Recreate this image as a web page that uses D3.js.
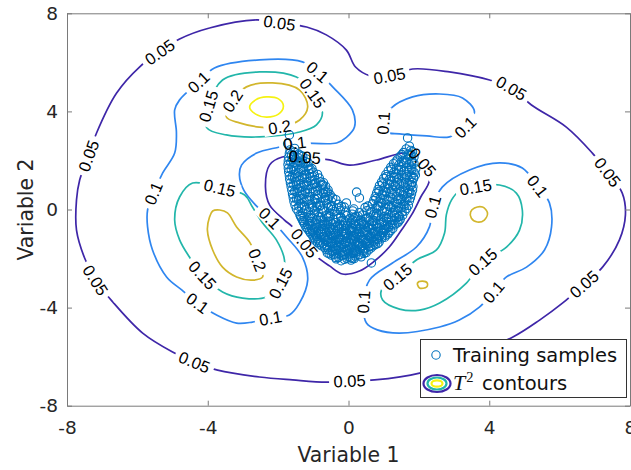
<!DOCTYPE html>
<html>
<head>
<meta charset="utf-8">
<script src="https://cdn.jsdelivr.net/npm/d3@7"></script>
<style>
  body { margin: 0; background: #fff; }
  svg { display: block; }
</style>
</head>
<body>
<svg id="chart" width="631" height="470"></svg>
<script>
// ---- chart values -------------------------------------------------------
const xTicks = [-8, -4, 0, 4, 8];
const yTicks = [-8, -4, 0, 4, 8];
const contourLevels = [0.05, 0.1, 0.15, 0.2, 0.25];
const levelColors = ["#3e26a8", "#2f86f0", "#22b6aa", "#d2b62c", "#f5f213"];

// T^2 contour lines, closed, [Variable 1, Variable 2]
const contourPaths = [
  { level: 0.05, points: [[-4.80,6.95],[-3.95,7.40],[-2.61,7.73],[-1.96,7.61],[-1.19,7.44],[-0.63,7.12],[-0.06,6.50],[0.20,5.81],[0.62,5.45],[1.16,5.45],[1.82,5.73],[2.87,5.61],[4.01,5.28],[4.63,4.95],[5.20,4.26],[6.19,3.36],[6.93,2.30],[7.36,1.53],[7.78,0.67],[7.87,-0.22],[7.70,-1.24],[7.22,-2.35],[6.70,-3.04],[6.08,-3.82],[5.43,-4.51],[4.66,-5.21],[3.44,-5.93],[2.59,-6.38],[2.02,-6.67],[0.74,-6.95],[0.03,-6.99],[-0.63,-7.04],[-1.59,-6.95],[-2.53,-6.83],[-3.72,-6.55],[-4.38,-6.22],[-5.00,-5.81],[-5.85,-5.04],[-6.70,-3.77],[-7.19,-2.88],[-7.50,-1.98],[-7.73,-0.84],[-7.73,0.39],[-7.64,1.20],[-7.39,2.18],[-7.16,3.12],[-6.59,4.75],[-5.94,5.81],[-5.37,6.42]] },
  { level: 0.05, points: [[-1.88,2.14],[-2.24,1.82],[-2.36,0.92],[-2.24,0.18],[-1.82,-0.43],[-1.59,-0.71],[-1.25,-1.37],[-0.88,-1.94],[-0.54,-2.30],[-0.17,-2.63],[0.31,-2.51],[0.74,-2.10],[1.16,-1.53],[1.50,-0.85],[1.80,-0.20],[2.05,0.50],[2.30,1.20],[2.10,1.94],[1.65,2.30],[0.80,2.02],[0.03,1.81],[-0.54,2.02],[-1.25,2.14]] },
  { level: 0.1, points: [[-4.26,5.20],[-3.81,5.77],[-2.53,6.10],[-1.31,6.02],[-0.88,5.61],[-0.45,5.00],[0.11,4.06],[0.17,3.36],[-0.06,2.94],[-0.34,2.71],[-1.53,2.71],[-1.96,2.55],[-2.61,2.30],[-3.04,1.81],[-3.10,1.41],[-2.98,0.80],[-2.64,0.18],[-2.24,-0.35],[-1.76,-1.12],[-1.31,-1.94],[-1.16,-2.88],[-1.39,-3.81],[-1.68,-4.30],[-2.22,-4.43],[-2.73,-4.59],[-3.18,-4.63],[-3.75,-4.30],[-4.29,-3.81],[-4.74,-3.28],[-5.17,-2.75],[-5.57,-1.65],[-5.71,-0.71],[-5.71,-0.02],[-5.54,0.67],[-5.28,1.49],[-4.94,2.30],[-4.89,3.12],[-4.94,4.06],[-4.80,4.47]] },
  { level: 0.15, points: [[-3.98,4.22],[-3.58,5.28],[-2.53,5.61],[-1.48,5.40],[-1.02,4.75],[-0.74,3.94],[-0.91,3.45],[-1.39,3.16],[-2.53,2.96],[-3.47,3.04],[-4.03,3.34]] },
  { level: 0.2, points: [[-3.30,4.42],[-2.90,5.00],[-2.16,5.16],[-1.39,4.87],[-1.16,4.18],[-1.39,3.65],[-1.96,3.36],[-2.53,3.36],[-3.10,3.53],[-3.47,3.77]] },
  { level: 0.25, points: [[-2.81,4.18],[-2.64,4.47],[-2.33,4.59],[-1.99,4.51],[-1.85,4.22],[-1.99,3.89],[-2.33,3.77],[-2.64,3.89]] },
  { level: 0.15, points: [[-4.43,1.08],[-4.80,0.51],[-4.94,-0.43],[-4.80,-1.24],[-4.52,-1.94],[-4.15,-2.67],[-3.58,-3.36],[-3.01,-3.61],[-2.33,-3.57],[-1.93,-3.00],[-1.82,-2.06],[-2.05,-1.24],[-2.44,-0.55],[-2.73,0.10],[-2.95,0.59],[-3.66,0.88]] },
  { level: 0.2, points: [[-3.95,-0.31],[-3.86,-0.06],[-3.66,-0.02],[-3.44,-0.14],[-3.18,-0.71],[-2.81,-1.33],[-2.59,-2.06],[-2.44,-2.75],[-2.73,-2.88],[-3.18,-2.75],[-3.58,-2.35],[-3.86,-1.65],[-4.01,-0.84]] },
  { level: 0.1, points: [[1.22,4.14],[1.82,4.59],[2.59,4.71],[3.24,4.55],[3.58,3.98],[3.32,3.36],[2.87,2.96],[2.22,3.00],[1.45,3.08],[1.08,3.16],[0.99,3.53]] },
  { level: 0.1, points: [[2.67,0.92],[3.44,1.61],[4.29,1.90],[4.94,1.69],[5.37,0.96],[5.71,0.27],[5.77,-0.71],[5.57,-1.65],[5.06,-2.35],[4.49,-2.75],[4.12,-3.36],[3.72,-3.98],[3.15,-4.51],[2.59,-4.79],[1.45,-5.04],[0.82,-4.91],[0.51,-4.63],[0.43,-3.77],[0.60,-2.87],[1.25,-2.18],[1.93,-1.53],[2.30,-0.71],[2.39,0.10]] },
  { level: 0.15, points: [[3.61,0.92],[4.29,1.00],[4.77,0.67],[4.94,-0.02],[4.86,-0.84],[4.49,-1.53],[3.81,-2.14],[3.35,-3.00],[2.59,-3.81],[2.02,-4.10],[1.45,-4.06],[0.97,-3.69],[0.94,-3.28],[1.39,-2.75],[1.93,-2.06],[2.50,-1.65],[2.73,-0.96],[2.78,-0.22],[2.93,0.39],[3.15,0.75]] },
  { level: 0.2, points: [[3.58,0.06],[3.81,0.10],[3.95,-0.14],[3.86,-0.43],[3.66,-0.51],[3.49,-0.35],[3.47,-0.10]] },
  { level: 0.2, points: [[1.96,-3.00],[2.10,-2.92],[2.24,-3.00],[2.22,-3.16],[2.02,-3.20]] }
];

// inline level labels: [contour index, Variable 1, Variable 2]
const contourLabels = [
  [0,-1.96,7.61],[0,1.16,5.45],[0,4.63,4.95],[0,7.36,1.53],[0,6.70,-3.04],[0,0.03,-6.99],[0,-4.38,-6.22],[0,-7.19,-2.88],[0,-7.39,2.18],[0,-5.37,6.42],
  [1,-1.25,2.14],[1,2.10,1.94],[1,-1.25,-1.37],
  [2,-4.26,5.20],[2,-0.88,5.61],[2,-1.53,2.71],[2,-2.24,-0.35],[2,-2.22,-4.43],[2,-4.29,-3.81],[2,-5.54,0.67],
  [3,-3.98,4.22],[3,-1.02,4.75],
  [4,-3.30,4.42],[4,-1.96,3.36],
  [6,-3.66,0.88],[6,-4.15,-2.67],[6,-1.93,-3.00],
  [7,-2.59,-2.06],
  [8,3.32,3.36],[8,0.99,3.53],
  [9,5.37,0.96],[9,4.12,-3.36],[9,0.43,-3.77],[9,2.39,0.10],
  [10,3.61,0.92],[10,3.81,-2.14],[10,1.39,-2.75]
];

// training samples [Variable 1, Variable 2]
const samples = [
  [-0.35,-2.01],[-0.21,-2.09],[-0.05,-1.99],[0.07,-2.06],[0.16,-2.00],
  [-0.49,-1.86],[-0.37,-1.95],[-0.20,-1.88],[-0.11,-1.83],[0.06,-1.97],[0.19,-1.90],[0.28,-1.84],[0.36,-1.93],
  [-0.60,-1.77],[-0.45,-1.69],[-0.36,-1.80],[-0.17,-1.73],[-0.03,-1.67],[0.13,-1.79],[0.23,-1.72],[0.41,-1.68],[0.50,-1.76],
  [-0.68,-1.55],[-0.56,-1.64],[-0.37,-1.58],[-0.28,-1.52],[-0.06,-1.61],[0.08,-1.56],[0.17,-1.66],[0.37,-1.53],[0.47,-1.60],[0.64,-1.57],
  [-0.82,-1.41],[-0.63,-1.47],[-0.51,-1.38],[-0.41,-1.50],[-0.19,-1.44],[-0.07,-1.37],[0.10,-1.49],[0.21,-1.42],[0.40,-1.46],[0.53,-1.39],[0.62,-1.50],[0.76,-1.43],
  [-0.93,-1.28],[-0.80,-1.34],[-0.61,-1.25],[-0.50,-1.31],[-0.33,-1.36],[-0.19,-1.23],[-0.08,-1.30],[0.13,-1.27],[0.26,-1.35],[0.39,-1.24],[0.51,-1.32],[0.70,-1.29],[0.79,-1.22],[0.87,-1.33],
  [-1.00,-1.13],[-0.89,-1.19],[-0.70,-1.10],[-0.57,-1.16],[-0.45,-1.08],[-0.24,-1.18],[-0.12,-1.12],[0.05,-1.20],[0.15,-1.09],[0.36,-1.14],[0.48,-1.19],[0.60,-1.11],[0.81,-1.17],[0.90,-1.07],[1.03,-1.13],
  [-1.08,-0.96],[-0.94,-1.04],[-0.84,-0.99],[-0.63,-0.93],[-0.49,-1.06],[-0.37,-0.98],[-0.16,-1.02],[-0.05,-0.95],[0.12,-1.05],[0.23,-0.97],[0.44,-0.92],[0.56,-1.03],[0.67,-0.98],[0.88,-1.06],[0.99,-0.94],[1.12,-1.00],
  [-1.15,-0.81],[-1.02,-0.88],[-0.85,-0.84],[-0.76,-0.78],[-0.55,-0.90],[-0.42,-0.83],[-0.26,-0.79],[-0.14,-0.87],[0.04,-0.82],[0.17,-0.91],[0.30,-0.77],[0.49,-0.85],[0.62,-0.80],[0.74,-0.89],[0.95,-0.83],[1.07,-0.78],[1.20,-0.86],
  [-1.21,-0.72],[-1.07,-0.66],[-0.97,-0.75],[-0.79,-0.69],[-0.64,-0.63],[-0.53,-0.74],[-0.32,-0.67],[-0.20,-0.71],[-0.03,-0.64],[0.11,-0.76],[0.21,-0.68],[0.42,-0.62],[0.55,-0.73],[0.71,-0.67],[0.83,-0.75],[1.02,-0.65],[1.14,-0.70],[1.30,-0.63],
  [-1.28,-0.52],[-1.12,-0.59],[-1.03,-0.50],[-0.84,-0.56],[-0.69,-0.61],[-0.58,-0.49],[-0.37,-0.54],[-0.25,-0.60],[-0.09,-0.51],[0.06,-0.57],[0.20,-0.48],[0.37,-0.55],[0.46,-0.62],[0.67,-0.50],[0.79,-0.58],[0.95,-0.53],[1.10,-0.49],[1.24,-0.60],[1.40,-0.54],
  [-1.33,-0.37],[-1.18,-0.44],[-1.04,-0.35],[-0.91,-0.41],[-0.73,-0.46],[-0.61,-0.34],[-0.43,-0.40],[-0.30,-0.36],[-0.14,-0.45],[0.03,-0.38],[0.15,-0.33],[0.34,-0.43],[0.47,-0.39],[0.60,-0.47],[0.80,-0.35],[0.91,-0.42],[1.08,-0.37],[1.22,-0.44],[1.36,-0.34],[1.47,-0.40],
  [-1.38,-0.22],[-1.26,-0.29],[-1.09,-0.24],[-0.97,-0.18],[-0.79,-0.31],[-0.63,-0.23],[-0.52,-0.27],[-0.34,-0.20],[-0.22,-0.30],[-0.05,-0.25],[0.10,-0.19],[0.27,-0.28],[0.40,-0.22],[0.56,-0.32],[0.71,-0.21],[0.84,-0.26],[1.00,-0.30],[1.13,-0.20],[1.31,-0.25],[1.42,-0.29],[1.54,-0.23],
  [-1.43,-0.07],[-1.30,-0.14],[-1.14,-0.09],[-0.98,-0.03],[-0.86,-0.12],[-0.70,-0.06],[-0.53,-0.15],[-0.41,-0.08],[-0.23,-0.04],[-0.08,-0.11],[0.12,-0.06],[0.31,-0.13],[0.52,-0.05],[0.64,-0.10],[0.80,-0.15],[0.96,-0.04],[1.08,-0.09],[1.25,-0.12],[1.40,-0.05],[1.52,-0.10],[1.60,-0.07],
  [-1.48,0.03],[-1.33,0.09],[-1.20,0.01],[-1.02,0.07],[-0.90,0.10],[-0.74,0.02],[-0.57,0.08],[-0.45,-0.01],[-0.28,0.06],[-0.12,0.10],[0.15,0.02],
  [0.47,0.08],[0.61,0.01],[0.79,0.06],[0.90,0.11],[1.07,0.03],[1.22,0.09],[1.34,0.00],[1.50,0.07],[1.65,0.04],
  [-1.52,0.18],[-1.36,0.24],[-1.25,0.15],[-1.07,0.22],[-0.92,0.26],[-0.80,0.17],[-0.62,0.23],[-0.48,0.16],[-0.29,0.21],[-0.06,0.27],
  [0.68,0.23],[0.83,0.16],[0.95,0.25],[1.13,0.19],[1.27,0.14],[1.40,0.24],[1.57,0.20],[1.70,0.17],
  [-1.55,0.33],[-1.42,0.39],[-1.24,0.31],[-1.12,0.36],[-0.95,0.41],[-0.79,0.30],[-0.66,0.38],[-0.49,0.34],[-0.36,0.40],
  [0.72,0.37],[0.86,0.31],[1.03,0.40],[1.15,0.34],[1.32,0.29],[1.47,0.39],[1.60,0.33],[1.73,0.36],
  [-1.57,0.48],[-1.41,0.54],[-1.29,0.46],[-1.13,0.52],[-0.97,0.45],[-0.85,0.55],[-0.67,0.49],[-0.55,0.53],[-0.45,0.47],[0.31,0.47],
  [0.76,0.52],[0.91,0.46],[1.04,0.55],[1.20,0.49],[1.36,0.53],[1.49,0.45],[1.65,0.51],[1.76,0.48],
  [-1.59,0.63],[-1.46,0.69],[-1.30,0.61],[-1.17,0.67],[-1.00,0.71],[-0.88,0.62],[-0.71,0.66],[-0.59,0.70],[-0.52,0.60],[0.23,0.71],
  [0.80,0.67],[0.95,0.61],[1.08,0.70],[1.25,0.64],[1.38,0.68],[1.55,0.60],[1.68,0.66],[1.79,0.63],
  [-1.61,0.78],[-1.45,0.84],[-1.33,0.76],[-1.16,0.82],[-1.04,0.86],[-0.87,0.77],[-0.72,0.83],[-0.58,0.79],
  [0.84,0.82],[0.99,0.76],[1.14,0.85],[1.27,0.79],[1.44,0.83],[1.56,0.75],[1.72,0.81],[1.82,0.78],
  [-1.63,0.93],[-1.48,0.99],[-1.32,0.91],[-1.20,0.97],[-1.03,1.01],[-0.90,0.92],[-0.77,0.98],[-0.65,0.94],
  [0.88,0.97],[1.03,0.91],[1.16,1.00],[1.33,0.94],[1.46,0.99],[1.61,0.90],[1.75,0.96],[1.83,0.93],
  [-1.65,1.08],[-1.50,1.14],[-1.37,1.06],[-1.20,1.12],[-1.08,1.16],[-0.93,1.07],[-0.80,1.13],[-0.71,1.09],
  [0.94,1.12],[1.10,1.06],[1.22,1.15],[1.39,1.09],[1.52,1.13],[1.68,1.05],[1.81,1.11],
  [-1.67,1.23],[-1.53,1.29],[-1.38,1.21],[-1.25,1.27],[-1.09,1.31],[-0.96,1.22],[-0.83,1.28],
  [1.00,1.27],[1.15,1.21],[1.30,1.30],[1.42,1.24],[1.59,1.28],[1.72,1.20],[1.85,1.26],
  [-1.68,1.38],[-1.52,1.44],[-1.41,1.36],[-1.24,1.42],[-1.11,1.46],[-0.97,1.37],[-0.88,1.43],
  [1.06,1.42],[1.21,1.36],[1.35,1.45],[1.50,1.39],[1.64,1.43],[1.78,1.35],[1.90,1.41],
  [-1.70,1.53],[-1.55,1.59],[-1.42,1.51],[-1.27,1.57],[-1.13,1.61],[-1.00,1.52],
  [1.13,1.57],[1.29,1.51],[1.42,1.60],[1.58,1.54],[1.72,1.58],[1.87,1.50],
  [-1.71,1.68],[-1.57,1.74],[-1.41,1.66],[-1.29,1.72],[-1.15,1.76],[-1.04,1.67],
  [1.20,1.72],[1.36,1.66],[1.49,1.75],[1.64,1.69],[1.79,1.73],[1.91,1.65],
  [-1.72,1.83],[-1.56,1.89],[-1.44,1.81],[-1.29,1.87],[-1.15,1.91],
  [1.28,1.87],[1.43,1.81],[1.57,1.90],[1.72,1.84],[1.86,1.88],
  [-1.71,1.98],[-1.58,2.04],[-1.43,1.96],[-1.31,2.02],[-1.20,2.06],
  [1.38,2.02],[1.52,1.96],[1.67,2.05],[1.80,1.99],
  [-1.70,2.13],[-1.55,2.19],[-1.43,2.11],[-1.30,2.17],
  [1.47,2.17],[1.62,2.11],[1.75,2.20],[1.86,2.14],
  [-1.68,2.28],[-1.54,2.34],[-1.42,2.26],[1.56,2.32],[1.70,2.26],[1.82,2.35],
  [-1.66,2.43],[-1.53,2.49],[1.64,2.47],[1.77,2.41],
  [-1.73,2.68],[-1.68,3.04],[1.73,2.58],[1.68,2.92],[0.65,-2.18],
  // second pass through the dense part of the band
  [-0.28,-1.95],[-0.12,-2.03],[0.02,-1.92],[0.11,-1.99],
  [-0.55,-1.80],[-0.42,-1.84],[-0.27,-1.78],[-0.15,-1.86],[0.01,-1.81],[0.12,-1.76],[0.31,-1.85],[0.44,-1.79],
  [-0.64,-1.63],[-0.50,-1.70],[-0.33,-1.66],[-0.21,-1.61],[-0.10,-1.72],[0.03,-1.64],[0.19,-1.69],[0.32,-1.62],[0.43,-1.71],[0.57,-1.65],
  [-0.76,-1.48],[-0.60,-1.55],[-0.46,-1.50],[-0.33,-1.46],[-0.15,-1.56],[-0.01,-1.49],[0.14,-1.53],[0.28,-1.47],[0.44,-1.57],[0.58,-1.51],[0.70,-1.48],
  [-0.88,-1.35],[-0.72,-1.40],[-0.58,-1.33],[-0.45,-1.39],[-0.26,-1.34],[-0.13,-1.41],[0.04,-1.36],[0.17,-1.32],[0.31,-1.40],[0.47,-1.35],[0.59,-1.38],[0.73,-1.33],[0.83,-1.39],
  [-0.96,-1.19],[-0.84,-1.25],[-0.67,-1.20],[-0.53,-1.16],[-0.38,-1.26],[-0.27,-1.21],[-0.04,-1.18],[0.09,-1.24],[0.21,-1.17],[0.43,-1.22],[0.55,-1.27],[0.66,-1.19],[0.84,-1.23],[0.95,-1.16],
  [-1.03,-1.04],[-0.90,-1.10],[-0.76,-1.02],[-0.60,-1.08],[-0.42,-1.05],[-0.29,-1.11],[-0.09,-1.03],[0.07,-1.07],[0.19,-1.12],[0.31,-1.01],[0.52,-1.06],[0.64,-1.10],[0.77,-1.03],[0.95,-1.09],[1.06,-1.05],
  [-1.11,-0.89],[-0.98,-0.95],[-0.79,-0.90],[-0.68,-0.87],[-0.51,-0.96],[-0.33,-0.88],[-0.20,-0.93],[-0.09,-0.97],[0.08,-0.86],[0.27,-0.92],[0.38,-0.95],[0.53,-0.88],[0.71,-0.94],[0.84,-0.90],[1.02,-0.87],[1.15,-0.93],
  [-1.18,-0.74],[-1.04,-0.80],[-0.90,-0.73],[-0.71,-0.79],[-0.60,-0.75],[-0.47,-0.81],[-0.29,-0.72],[-0.09,-0.78],[0.08,-0.74],[0.24,-0.80],[0.35,-0.76],[0.56,-0.71],[0.68,-0.79],[0.87,-0.75],[1.00,-0.81],[1.13,-0.73],[1.26,-0.77],
  [-1.25,-0.60],[-1.15,-0.64],[-0.92,-0.58],[-0.74,-0.63],[-0.45,-0.59],[-0.14,-0.65],[0.15,-0.60],[0.30,-0.57],[0.60,-0.63],[0.88,-0.59],[1.19,-0.61],[1.35,-0.58],
  [-1.30,-0.45],[-1.10,-0.49],[-0.78,-0.44],[-0.52,-0.50],[-0.20,-0.46],[0.11,-0.43],[0.41,-0.49],[0.72,-0.45],[1.00,-0.48],[1.30,-0.44],[1.43,-0.47],
  [-1.36,-0.29],[-1.12,-0.34],[-0.85,-0.30],[-0.56,-0.28],[-0.22,-0.33],[0.21,-0.30],[0.52,-0.35],[0.76,-0.29],[1.15,-0.32],[1.45,-0.28],
  [-1.41,0.13],[-1.10,0.10],[-0.82,0.14],[-0.50,0.11],[-0.20,0.12],[0.55,0.14],[0.85,0.12],[1.15,0.13],[1.42,0.10],[1.60,0.15],
  [-1.48,0.43],[-1.18,0.41],[-0.88,0.45],[-0.58,0.42],[0.78,0.44],[1.09,0.41],[1.40,0.43],[1.66,0.42],
  [-1.53,0.74],[-1.23,0.71],[-0.94,0.75],[-0.65,0.72],[0.87,0.74],[1.18,0.72],[1.47,0.73],[1.74,0.71],
  [-1.57,1.03],[-1.27,1.01],[-0.97,1.05],[-0.74,1.02],[0.97,1.04],[1.27,1.02],[1.56,1.03],[1.79,1.01],
  [-1.60,1.34],[-1.32,1.31],[-1.03,1.35],[1.08,1.34],[1.37,1.32],[1.66,1.33],[1.85,1.31],
  [-1.63,1.64],[-1.35,1.61],[-1.09,1.65],[1.22,1.64],[1.50,1.62],[1.80,1.63],
  [-1.64,1.94],[-1.37,1.91],[-1.22,1.95],[1.35,1.94],[1.64,1.92],[1.80,1.93],
  [-1.62,2.24],[-1.37,2.21],[1.52,2.24],[1.78,2.22]
];

const legendLabels = ["Training samples", "contours"];

// ---- layout ---------------------------------------------------------------
const svg = d3.select("#chart");
const x = d3.scaleLinear().domain([-8, 8]).range([67, 630]);
const y = d3.scaleLinear().domain([-8, 8]).range([405.7, 13.3]);
const color = d3.scaleOrdinal().domain(contourLevels).range(levelColors);

const axisGrey = "#7a7a7a";
const textDark = "#262626";
const sans = "DejaVu Sans, sans-serif";

// ---- contour lines (with gaps cut under their labels) --------------------
const line = d3.line().x(d => x(d[0])).y(d => y(d[1])).curve(d3.curveCatmullRomClosed.alpha(0.5));

const defs = svg.append("defs");
const mask = defs.append("mask").attr("id", "labelGaps")
  .attr("maskUnits", "userSpaceOnUse")
  .attr("x", 0).attr("y", 0).attr("width", 631).attr("height", 470);
mask.append("rect").attr("width", 631).attr("height", 470).attr("fill", "#fff");

const contourG = svg.append("g").attr("mask", "url(#labelGaps)");
const paths = contourG.selectAll("path.contour")
  .data(contourPaths)
  .join("path")
  .attr("class", "contour")
  .attr("d", d => line(d.points))
  .attr("fill", "none")
  .attr("stroke", d => color(d.level))
  .attr("stroke-width", 1.7)
  .attr("stroke-linejoin", "round");

// ---- training samples ----------------------------------------------------
svg.append("g").selectAll("circle")
  .data(samples)
  .join("circle")
  .attr("cx", d => x(d[0]))
  .attr("cy", d => y(d[1]))
  .attr("r", 4.2)
  .attr("fill", "none")
  .attr("stroke", "#0072bd")
  .attr("stroke-width", 1.1);

// ---- contour labels: placed on the line, rotated along it ---------------
const labelG = svg.append("g");
const labelSize = 16.5;
const pathNodes = paths.nodes();
contourLabels.forEach(([ci, lx, ly]) => {
  const node = pathNodes[ci];
  const total = node.getTotalLength();
  const tx = x(lx), ty = y(ly);
  let best = 0, bestD = Infinity;
  for (let s = 0; s <= total; s += 0.5) {
    const p = node.getPointAtLength(s);
    const dd = (p.x - tx) ** 2 + (p.y - ty) ** 2;
    if (dd < bestD) { bestD = dd; best = s; }
  }
  const p = node.getPointAtLength(best);
  const a = node.getPointAtLength(Math.max(0, best - 4));
  const b = node.getPointAtLength(Math.min(total, best + 4));
  let ang = Math.atan2(b.y - a.y, b.x - a.x) * 180 / Math.PI;
  if (ang > 90) ang -= 180;
  if (ang < -90) ang += 180;
  const txt = labelG.append("text")
    .attr("transform", `translate(${p.x},${p.y}) rotate(${ang})`)
    .attr("text-anchor", "middle")
    .attr("dy", "0.36em")
    .attr("font-family", "Liberation Sans, Arial, sans-serif")
    .attr("font-size", labelSize)
    .attr("fill", "#000")
    .text(String(contourPaths[ci].level));
  const w = txt.node().getComputedTextLength() + 9;
  const h = labelSize * 0.9;
  mask.append("rect")
    .attr("x", -w / 2).attr("y", -h / 2)
    .attr("width", w).attr("height", h)
    .attr("transform", `translate(${p.x},${p.y}) rotate(${ang})`)
    .attr("fill", "#000");
});

// ---- axes box --------------------------------------------------------------
const tickText = d => String(d);
function styleAxis(g) {
  g.selectAll(".domain").attr("stroke", axisGrey);
  g.selectAll(".tick line").attr("stroke", axisGrey);
  g.selectAll(".tick text").attr("fill", textDark).attr("font-family", sans).attr("font-size", 18.5);
}
svg.append("g").attr("transform", `translate(0,${y(-8)})`)
  .call(d3.axisBottom(x).tickValues(xTicks).tickFormat(tickText).tickSizeInner(-5).tickSizeOuter(0).tickPadding(15))
  .call(styleAxis);
svg.append("g").attr("transform", `translate(${x(-8)},0)`)
  .call(d3.axisLeft(y).tickValues(yTicks).tickFormat(tickText).tickSizeInner(-5).tickSizeOuter(0).tickPadding(9))
  .call(styleAxis);
svg.append("g").attr("transform", `translate(0,${y(8)})`)
  .call(d3.axisTop(x).tickValues(xTicks).tickSizeInner(-5).tickSizeOuter(0).tickFormat(""))
  .call(styleAxis);
svg.append("g").attr("transform", `translate(${x(8)},0)`)
  .call(d3.axisRight(y).tickValues(yTicks).tickSizeInner(-5).tickSizeOuter(0).tickFormat(""))
  .call(styleAxis);

// axis titles
svg.append("text")
  .attr("x", x(0)).attr("y", 462)
  .attr("text-anchor", "middle")
  .attr("font-family", sans).attr("font-size", 20.4).attr("fill", textDark)
  .text("Variable 1");
svg.append("text")
  .attr("transform", `translate(33,${y(0)}) rotate(-90)`)
  .attr("text-anchor", "middle")
  .attr("font-family", sans).attr("font-size", 20.4).attr("fill", textDark)
  .text("Variable 2");

// ---- legend ----------------------------------------------------------------
const lg = svg.append("g");
lg.append("rect")
  .attr("x", 420.5).attr("y", 339.5).attr("width", 206).attr("height", 58)
  .attr("fill", "#fff").attr("stroke", "#333").attr("stroke-width", 1);
lg.append("circle")
  .attr("cx", 436).attr("cy", 355).attr("r", 4.2)
  .attr("fill", "none").attr("stroke", "#0072bd").attr("stroke-width", 1.1);
lg.append("text")
  .attr("x", 453).attr("y", 362)
  .attr("font-family", sans).attr("font-size", 19.5).attr("fill", "#111")
  .text(legendLabels[0]);
// miniature contour icon
const icon = [[13.5, 8.5, contourLevels[0]], [9.5, 6, contourLevels[2]], [5.5, 3.2, contourLevels[4]]];
lg.selectAll("ellipse").data(icon).join("ellipse")
  .attr("cx", 437).attr("cy", 383.5)
  .attr("rx", d => d[0]).attr("ry", d => d[1])
  .attr("fill", "none").attr("stroke", d => color(d[2])).attr("stroke-width", 2.2);
const t2 = lg.append("text").attr("x", 453).attr("y", 390).attr("fill", "#111");
t2.append("tspan").attr("font-family", "Liberation Serif, DejaVu Serif, serif")
  .attr("font-style", "italic").attr("font-size", 22).text("T");
t2.append("tspan").attr("font-family", "Liberation Serif, DejaVu Serif, serif")
  .attr("font-size", 14.5).attr("dy", -8).attr("dx", 1).text("2");
t2.append("tspan").attr("x", 482).attr("dy", 8)
  .attr("font-family", sans).attr("font-size", 19.5).text(legendLabels[1]);
</script>
</body>
</html>
